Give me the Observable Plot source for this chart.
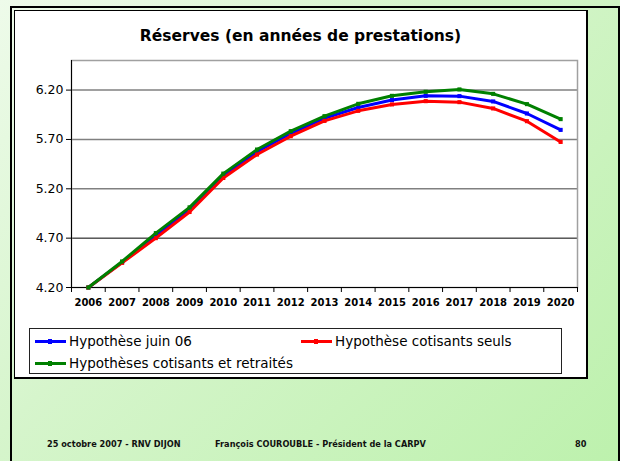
<!DOCTYPE html>
<html>
<head>
<meta charset="utf-8">
<script src="https://cdn.jsdelivr.net/npm/d3@7"></script>
<script src="https://cdn.jsdelivr.net/npm/@observablehq/plot@0.6"></script>
<style>
  html, body { margin: 0; padding: 0; }
  body { width: 620px; height: 461px; overflow: hidden; font-family: "DejaVu Sans", sans-serif; }
  #slide { position: absolute; left: 0; top: 0; width: 620px; height: 461px;
    background: linear-gradient(135deg, #eefbea 0%, #d6f5cc 40%, #bdf1ad 100%); }
  #border { position: absolute; left: 10px; top: 6px; width: 606px; height: 470px; border: 2px solid #000; }
  #box { position: absolute; left: 14px; top: 10px; width: 571px; height: 366px; background: #fff; border: 1px solid #000; border-right: 2px solid #000; border-bottom: 2px solid #000; }
  #title { position: absolute; left: 14px; top: 27px; width: 573px; text-align: center; font-weight: bold; font-size: 15.5px; color: #000; }
  #chart { position: absolute; left: 14px; top: 50px; }
  #legend { position: absolute; left: 29px; top: 328px; width: 531px; height: 44px; border: 1px solid #222; background: #fff; font-size: 13.5px; }
  .item { position: absolute; display: flex; align-items: center; height: 16px; }
  .sym { position: relative; width: 31px; height: 3px; margin-right: 3px; }
  .sym span { position: absolute; left: 13px; top: -1px; width: 4px; height: 5px; }
  .foot { position: absolute; top: 439px; font-size: 8.2px; font-weight: bold; color: #111; }
</style>
</head>
<body>
<div id="slide"></div>
<div id="border"></div>
<div id="box"></div>
<div id="title">Réserves (en années de prestations)</div>
<div id="chart"></div>
<div id="legend"></div>
<div class="foot" style="left:47px">25 octobre 2007 - RNV DIJON</div>
<div class="foot" style="left:215px">François COUROUBLE - Président de la CARPV</div>
<div class="foot" style="left:575px">80</div>
<script>
const years = [2006, 2007, 2008, 2009, 2010, 2011, 2012, 2013, 2014, 2015, 2016, 2017, 2018, 2019, 2020];
const seriesNames = ["Hypothèse juin 06", "Hypothèse cotisants seuls", "Hypothèses cotisants et retraités"];
const seriesColors = ["#0000ff", "#ff0000", "#008000"];
const juin06 = [4.20, 4.455, 4.725, 4.99, 5.33, 5.575, 5.76, 5.915, 6.024, 6.099, 6.142, 6.139, 6.085, 5.963, 5.797];
const cotisantsSeuls = [4.20, 4.45, 4.70, 4.965, 5.31, 5.547, 5.733, 5.888, 5.99, 6.055, 6.088, 6.078, 6.014, 5.885, 5.675];
const cotisantsRetraites = [4.20, 4.464, 4.751, 5.012, 5.354, 5.598, 5.784, 5.936, 6.061, 6.142, 6.183, 6.207, 6.162, 6.058, 5.906];
const yTicks = [4.2, 4.7, 5.2, 5.7, 6.2];
const yDomain = [4.2, 6.5];

const allSeries = [juin06, cotisantsSeuls, cotisantsRetraites];
const data = [];
allSeries.forEach((vals, i) => vals.forEach((v, j) => data.push({series: seriesNames[i], year: years[j], value: v})));
const bounds = [years[0] - 0.5, ...years.map(y => y + 0.5)];

const marks = [
  Plot.ruleY(yTicks.slice(1), {stroke: d => d === 4.7 ? "#000" : "#808080", strokeWidth: d => d === 4.7 ? 1 : 1.5}),
  Plot.frame({stroke: "#a0a0a0", strokeWidth: 1.5}),
  Plot.ruleX([bounds[0]], {stroke: "#000", strokeWidth: 1}),
  Plot.ruleY([yDomain[0]], {stroke: "#000", strokeWidth: 1}),
  Plot.axisY({ticks: yTicks, tickFormat: d => d.toFixed(2), tickSize: 5, tickPadding: 3, fontSize: 12.5, fill: "#000", label: null}),
  Plot.axisX({ticks: bounds, tickFormat: () => "", tickSize: 5, label: null}),
  Plot.axisX({ticks: years, tickFormat: d => String(d), tickSize: 0, tickPadding: 11, fontSize: 10, fontWeight: "bold", fill: "#000", label: null})
];
seriesNames.forEach((name, i) => {
  const sub = data.filter(d => d.series === name);
  marks.push(Plot.line(sub, {x: "year", y: "value", stroke: seriesColors[i], strokeWidth: 3}));
  marks.push(Plot.dot(sub, {x: "year", y: "value", symbol: "square", r: 2.3, fill: seriesColors[i], stroke: "none"}));
});

const chart = Plot.plot({
  width: 573,
  height: 270,
  marginLeft: 57,
  marginRight: 10,
  marginTop: 10,
  marginBottom: 33,
  style: {fontFamily: "'DejaVu Sans', sans-serif", background: "transparent", overflow: "visible"},
  x: {type: "linear", domain: [bounds[0], bounds[bounds.length - 1]], axis: null},
  y: {domain: yDomain, axis: null},
  marks
});
document.getElementById("chart").appendChild(chart);

const legend = document.getElementById("legend");
const positions = [[5, 12], [271, 12], [5, 34]];
seriesNames.forEach((name, i) => {
  const it = document.createElement("div");
  it.className = "item";
  it.style.left = positions[i][0] + "px";
  it.style.top = (positions[i][1] - 8) + "px";
  it.innerHTML = `<div class="sym" style="background:${seriesColors[i]}"><span style="background:${seriesColors[i]}"></span></div><span>${name}</span>`;
  legend.appendChild(it);
});
</script>
</body>
</html>
